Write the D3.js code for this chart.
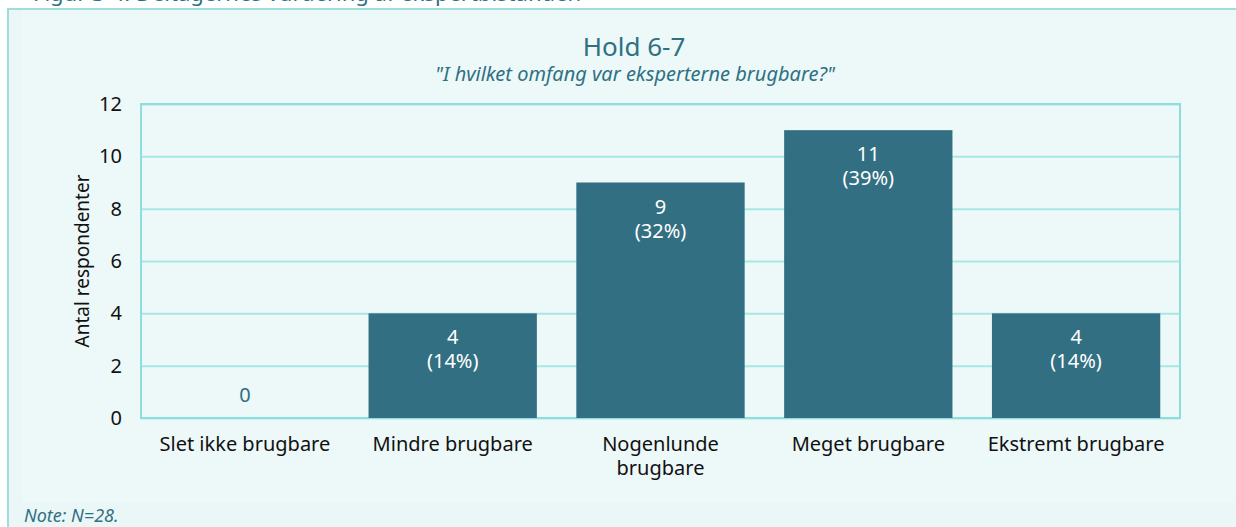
<!DOCTYPE html>
<html>
<head>
<meta charset="utf-8">
<script src="https://cdn.jsdelivr.net/npm/d3@7"></script>
<style>
  html, body { margin: 0; padding: 0; background: #ffffff; }
  svg { display: block; font-family: "Noto Sans", "Open Sans", sans-serif; }
</style>
</head>
<body>
<svg id="chart" width="1236" height="527"></svg>
<script>
// Survey responses: "I hvilket omfang var eksperterne brugbare?"
const categories = ["Slet ikke brugbare", "Mindre brugbare", "Nogenlunde brugbare", "Meget brugbare", "Ekstremt brugbare"];
const counts = [0, 4, 9, 11, 4];
const percents = [0, 14, 32, 39, 14];
const yTicks = [0, 2, 4, 6, 8, 10, 12];

const teal = "#336f83";
const textTeal = "#2f7083";
const gridColor = "#a9e7e7";
const borderColor = "#8fdede";
const fontSize = 20;

const svg = d3.select("#chart");

// Figure caption above the frame
svg.append("text")
  .attr("x", 33).attr("y", 1)
  .attr("fill", textTeal)
  .attr("font-size", 22)
  .text("Figur 3-4: Deltagernes vurdering af ekspertbistanden");

// Outer frame
svg.append("rect")
  .attr("x", 8).attr("y", 9)
  .attr("width", 1240).attr("height", 530)
  .attr("fill", "#ebf7f7")
  .attr("stroke", "#9fdcdc").attr("stroke-width", 2);

// Chart area panel
svg.append("rect")
  .attr("x", 22).attr("y", 10)
  .attr("width", 1214).attr("height", 492)
  .attr("fill", "#edf8f8");

const margin = { left: 141, right: 1180, top: 104, bottom: 418 };

const x = d3.scaleBand()
  .domain(categories)
  .range([margin.left, margin.right])
  .paddingInner(0.19)
  .paddingOuter(0.095);

const y = d3.scaleLinear()
  .domain([0, 12])
  .range([margin.bottom, margin.top]);

// Gridlines
const grid = svg.append("g")
  .attr("transform", `translate(${margin.left},0)`)
  .call(d3.axisLeft(y).tickValues(yTicks).tickSize(-(margin.right - margin.left)).tickFormat(""));
grid.select(".domain").remove();
grid.selectAll(".tick line").attr("stroke", gridColor).attr("stroke-width", 2);

// Plot border
svg.append("rect")
  .attr("x", margin.left).attr("y", margin.top)
  .attr("width", margin.right - margin.left)
  .attr("height", margin.bottom - margin.top)
  .attr("fill", "none")
  .attr("stroke", borderColor).attr("stroke-width", 2);

// Y axis labels
const yAxis = svg.append("g")
  .attr("transform", `translate(${margin.left},0)`)
  .call(d3.axisLeft(y).tickValues(yTicks).tickSize(0).tickPadding(19));
yAxis.select(".domain").remove();
yAxis.selectAll("text")
  .attr("font-size", fontSize)
  .attr("font-family", "'Noto Sans', sans-serif")
  .attr("fill", "#111");

// Y axis title
svg.append("text")
  .attr("transform", `translate(89,${(margin.top + margin.bottom) / 2}) rotate(-90)`)
  .attr("text-anchor", "middle")
  .attr("font-size", 19)
  .attr("fill", "#111")
  .text("Antal respondenter");

// Bars
svg.append("g").selectAll("rect")
  .data(categories)
  .join("rect")
  .attr("x", d => x(d))
  .attr("width", x.bandwidth())
  .attr("y", (d, i) => y(counts[i]))
  .attr("height", (d, i) => y(0) - y(counts[i]))
  .attr("fill", teal);

// Value labels
const labels = svg.append("g").selectAll("g")
  .data(categories)
  .join("g")
  .attr("transform", d => `translate(${x(d) + x.bandwidth() / 2},0)`);

labels.each(function (d, i) {
  const g = d3.select(this);
  if (counts[i] === 0) {
    g.append("text")
      .attr("y", y(0) - 16)
      .attr("text-anchor", "middle")
      .attr("font-size", fontSize)
      .attr("fill", textTeal)
      .text(counts[i]);
  } else {
    g.append("text")
      .attr("y", y(counts[i]) + 31)
      .attr("text-anchor", "middle")
      .attr("font-size", fontSize)
      .attr("fill", "#ffffff")
      .text(counts[i]);
    g.append("text")
      .attr("y", y(counts[i]) + 55)
      .attr("text-anchor", "middle")
      .attr("font-size", fontSize)
      .attr("fill", "#ffffff")
      .text(`(${percents[i]}%)`);
  }
});

// X axis labels (wrapped)
const xLabelLines = {
  "Nogenlunde brugbare": ["Nogenlunde", "brugbare"]
};
const xAxis = svg.append("g");
categories.forEach(c => {
  const lines = xLabelLines[c] || [c];
  const t = xAxis.append("text")
    .attr("x", x(c) + x.bandwidth() / 2)
    .attr("y", 451)
    .attr("text-anchor", "middle")
    .attr("font-size", fontSize)
    .attr("fill", "#111");
  lines.forEach((l, k) => {
    t.append("tspan")
      .attr("x", x(c) + x.bandwidth() / 2)
      .attr("dy", k === 0 ? 0 : 24)
      .text(l);
  });
});

// Titles
svg.append("text")
  .attr("x", 634).attr("y", 56)
  .attr("text-anchor", "middle")
  .attr("font-size", 26)
  .attr("fill", textTeal)
  .text("Hold 6-7");

svg.append("text")
  .attr("x", 635).attr("y", 81)
  .attr("text-anchor", "middle")
  .attr("font-size", 20)
  .attr("font-style", "italic")
  .attr("fill", textTeal)
  .text("\"I hvilket omfang var eksperterne brugbare?\"");

// Note
svg.append("text")
  .attr("x", 24).attr("y", 522)
  .attr("font-size", 18)
  .attr("font-style", "italic")
  .attr("fill", textTeal)
  .text("Note: N=28.");
</script>
</body>
</html>
